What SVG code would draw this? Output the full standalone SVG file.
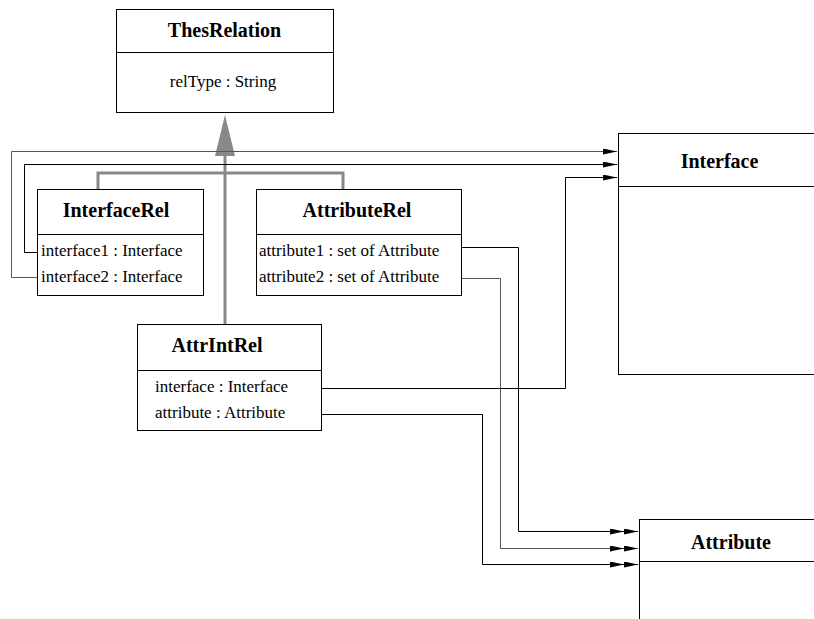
<svg xmlns="http://www.w3.org/2000/svg" width="814" height="619" viewBox="0 0 814 619">
  <style>
    .box { fill: #fff; stroke: #000; stroke-width: 1; }
    .sep { stroke: #000; stroke-width: 1; }
    .title { font-size: 20px; font-weight: bold; text-anchor: middle; fill: #000; }
    .attr { font-size: 17px; fill: #000; }
    .mid { text-anchor: middle; }
    .assoc { fill: none; stroke: #000; stroke-width: 1; }
    .assoc-g { fill: none; stroke: #555; stroke-width: 1; }
    .inherit { fill: none; stroke: #888; stroke-width: 3; }
    .head { fill: #000; stroke: none; }
  </style>
  <defs>
    <marker id="arrow" viewBox="0 0 14 6" refX="14" refY="3" markerWidth="14" markerHeight="6" markerUnits="userSpaceOnUse" orient="auto">
      <path class="head" d="M0,0 L14,3 L0,6 Z"/>
    </marker>
    <marker id="arrow2" viewBox="0 0 28 6" refX="28" refY="3" markerWidth="28" markerHeight="6" markerUnits="userSpaceOnUse" orient="auto">
      <path class="head" d="M0,0 L14,3 L0,6 Z M14,0 L28,3 L14,6 Z"/>
    </marker>
  </defs>

  <rect width="814" height="619" fill="#fff"/>

  <!-- nodes -->
  <g id="nodes" font-family="Liberation Serif, Times New Roman, serif">
    <g id="ThesRelation">
      <rect class="box" x="116.5" y="9.5" width="217" height="103"/>
      <line class="sep" x1="116.5" y1="52.5" x2="333.5" y2="52.5"/>
      <text class="title" x="224.5" y="37">ThesRelation</text>
      <text class="attr mid" x="223" y="87">relType : String</text>
    </g>

    <g id="Interface">
      <rect class="box" x="618.5" y="133.5" width="210" height="241"/>
      <line class="sep" x1="618.5" y1="186.5" x2="814" y2="186.5"/>
      <text class="title" x="719.5" y="168">Interface</text>
    </g>

    <g id="InterfaceRel">
      <rect class="box" x="37.5" y="189.5" width="166" height="106"/>
      <line class="sep" x1="37.5" y1="234.5" x2="203.5" y2="234.5"/>
      <text class="title" x="116" y="217">InterfaceRel</text>
      <text class="attr" x="41" y="256">interface1 : Interface</text>
      <text class="attr" x="41" y="282">interface2 : Interface</text>
    </g>

    <g id="AttributeRel">
      <rect class="box" x="256.5" y="189.5" width="205" height="106"/>
      <line class="sep" x1="256.5" y1="234.5" x2="461.5" y2="234.5"/>
      <text class="title" x="357" y="217">AttributeRel</text>
      <text class="attr" x="259" y="256">attribute1 : set of Attribute</text>
      <text class="attr" x="259" y="282">attribute2 : set of Attribute</text>
    </g>

    <g id="AttrIntRel">
      <rect class="box" x="137.5" y="324.5" width="184" height="106"/>
      <line class="sep" x1="137.5" y1="370.5" x2="321.5" y2="370.5"/>
      <text class="title" x="217" y="352">AttrIntRel</text>
      <text class="attr" x="155" y="392">interface : Interface</text>
      <text class="attr" x="155" y="418">attribute : Attribute</text>
    </g>

    <g id="Attribute">
      <rect class="box" x="639.5" y="519.5" width="200" height="120"/>
      <line class="sep" x1="639.5" y1="561.5" x2="814" y2="561.5"/>
      <text class="title" x="731" y="549">Attribute</text>
    </g>
  </g>

  <!-- connectors -->
  <g id="connectors">
    <!-- generalisation to ThesRelation -->
    <path class="inherit" d="M98,189 V173 H343 V189"/>
    <path class="inherit" d="M225,324 V155"/>
    <path d="M225,115 L235,156 L215,156 Z" fill="#888"/>

    <!-- InterfaceRel to Interface -->
    <path class="assoc-g" d="M37,277.5 H11.5 V151.5 H617" marker-end="url(#arrow)"/>
    <path class="assoc" d="M37,252.5 H24.5 V164.5 H617" marker-end="url(#arrow)"/>

    <!-- AttrIntRel to Interface -->
    <path class="assoc" d="M322,388.5 H565.5 V177.5 H617" marker-end="url(#arrow)"/>

    <!-- AttributeRel to Attribute -->
    <path class="assoc" d="M462,247.5 H518.5 V531.5 H638" marker-end="url(#arrow2)"/>
    <path class="assoc-g" d="M462,278.5 H500.5 V548.5 H638" marker-end="url(#arrow2)"/>

    <!-- AttrIntRel to Attribute -->
    <path class="assoc" d="M322,414.5 H482.5 V564.5 H638" marker-end="url(#arrow2)"/>
  </g>
</svg>
